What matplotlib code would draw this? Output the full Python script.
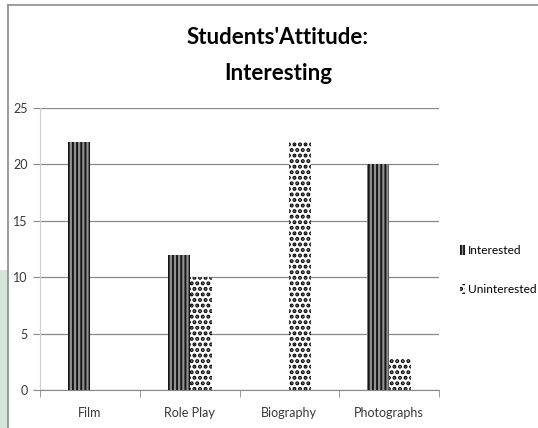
import numpy as np
import matplotlib
matplotlib.use('Agg')
import matplotlib.pyplot as plt
from matplotlib.patches import Rectangle
from matplotlib.lines import Line2D

categories = ['Film', 'Role Play', 'Biography', 'Photographs']
interested = [22, 12, 0, 20]
uninterested = [0, 10, 22, 2.8]
y_ticks = [0, 5, 10, 15, 20, 25]

plt.rcParams['font.family'] = ['Lato', 'DejaVu Sans']

fig = plt.figure(figsize=(5.38, 4.28), dpi=100)
ax = fig.add_axes([40 / 538, 38 / 428, 399 / 538, 282 / 428])

x = np.arange(len(categories))
w = 0.22
plt.rcParams['hatch.linewidth'] = 1.4
ax.bar(x - w / 2, interested, w, color='#909090', edgecolor='#151515',
       hatch='||||', linewidth=0, label='Interested', zorder=3)
plt.rcParams['hatch.linewidth'] = 2.0
ax.bar(x + w / 2, uninterested, w, color='white', edgecolor='black',
       hatch='...', linewidth=0, label='Uninterested', zorder=3)

ax.set_xlim(-0.5, len(categories) - 0.5)
ax.set_ylim(0, 25)
ax.set_yticks(y_ticks)
ax.set_xticks(x)
ax.set_xticklabels(categories)
ax.set_xticks(np.arange(len(categories) + 1) - 0.5, minor=True)
ax.tick_params(axis='x', which='major', length=0, pad=12)
ax.tick_params(axis='x', which='minor', length=5, color='#888888')
ax.tick_params(axis='y', length=5, color='#888888', pad=4)
ax.tick_params(labelsize=9, labelcolor='#383838')
ax.yaxis.grid(True, color='#888888', linewidth=0.9, zorder=0)
for s in ['top', 'right']:
    ax.spines[s].set_visible(False)
ax.spines['left'].set_color('#d0d0d0')
ax.spines['bottom'].set_color('#888888')

fig.text(278 / 538, 1 - 37 / 428, "Students'Attitude:", ha='center', va='center',
         fontsize=16, fontweight='bold')
fig.text(278 / 538, 1 - 74 / 428, "Interesting", ha='center', va='center',
         fontsize=16, fontweight='bold')

fig.legend(loc='center left', bbox_to_anchor=(460 / 538, 1 - 270 / 428),
           frameon=False, fontsize=8.6, handlelength=0.45, handleheight=0.9,
           handletextpad=0.25, labelspacing=2.3, borderaxespad=0, borderpad=0)

# chart frame and side strip
fig.patches.append(Rectangle((0, 0), 8 / 538, 158 / 428, transform=fig.transFigure,
                             facecolor='#d6e6dd', edgecolor='none'))
fig.lines.append(Line2D([8 / 538, 1], [1 - 4.5 / 428, 1 - 4.5 / 428], transform=fig.transFigure,
                        color='#8a8a8a', linewidth=1.2))
fig.lines.append(Line2D([8 / 538, 8 / 538], [0, 1 - 4.5 / 428], transform=fig.transFigure,
                        color='#8a8a8a', linewidth=1.2))

fig.savefig('out.png', dpi=100)
